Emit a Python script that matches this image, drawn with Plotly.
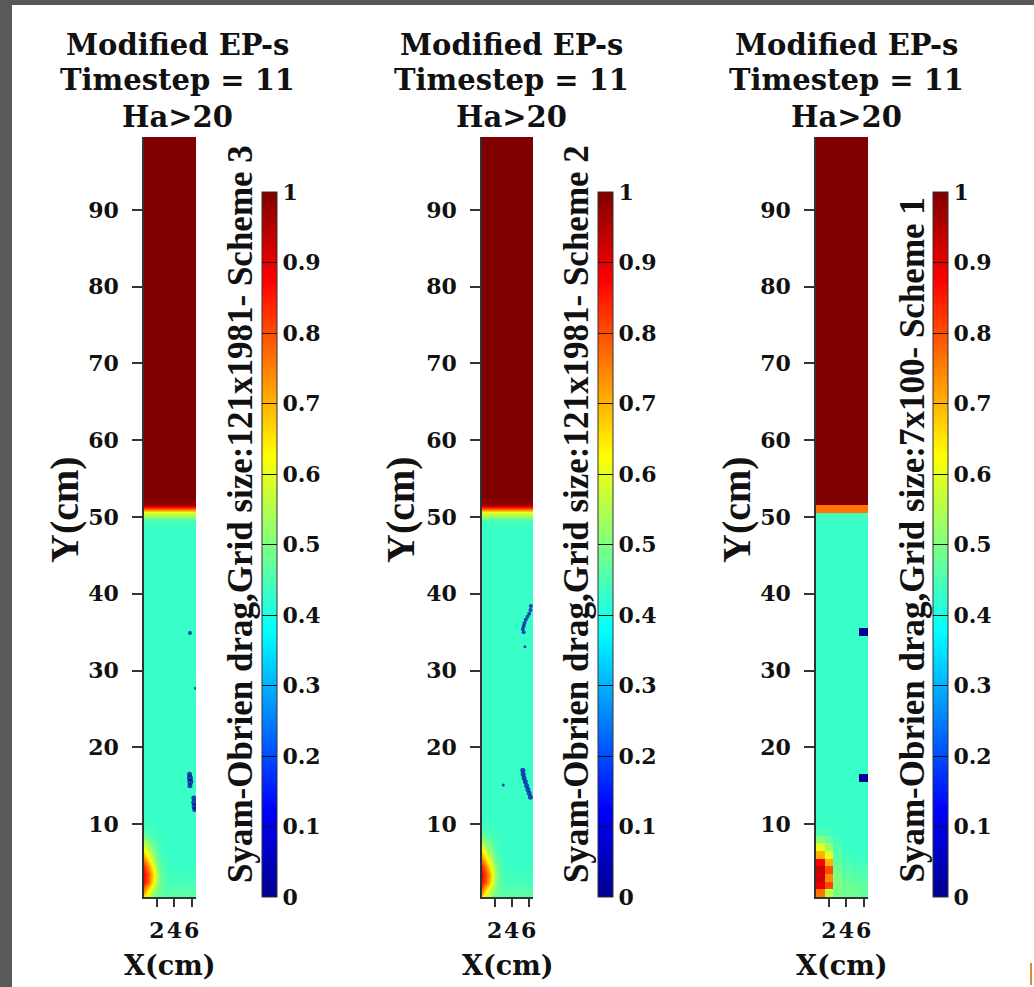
import plotly.graph_objects as go

W, H = 1034, 987

# ---------------- data ----------------
title_lines = ["Modified EP-s", "Timestep = 11", "Ha>20"]
side_labels = [
    "Syam-Obrien drag,Grid size:121x1981- Scheme 3",
    "Syam-Obrien drag,Grid size:121x1981- Scheme 2",
    "Syam-Obrien drag,Grid size:7x100- Scheme 1",
]
x_ticks = [2, 4, 6]
y_ticks = [10, 20, 30, 40, 50, 60, 70, 80, 90]
cbar_ticks = [0, 0.1, 0.2, 0.3, 0.4, 0.5, 0.6, 0.7, 0.8, 0.9, 1]
cbar_labels = ["0", "0.1", "0.2", "0.3", "0.4", "0.5", "0.6", "0.7", "0.8", "0.9", "1"]

bed_ep = 0.43          # gas volume fraction inside the bed
freeboard_ep = 1.0     # gas volume fraction above the bed

# fine schemes (121x1981), sampled every 0.5 cm across, 1 cm up
fine_x = [0.5, 1.0, 1.5, 2.0, 2.5, 3.0, 3.5, 4.0, 4.5, 5.0, 5.5, 6.0, 6.5]
fine_y_first, fine_rows = 0.5, 100
# coarse scheme (7x100 nodes -> 6x99 cells), one value per cell
coarse_x = [1, 2, 3, 4, 5, 6]
coarse_y_first, coarse_rows = 1, 99

# rows across the bed surface: (row index, value)
fine_interface = [(49, 0.44), (50, 0.58), (51, 0.97)]
coarse_interface = [(49, 0.44), (50, 0.76)]

# inlet jet region, rows from the bottom
fine_bottom = [
    [0.64, 0.57, 0.51, 0.48, 0.47, 0.46, 0.46, 0.46, 0.46, 0.46, 0.46, 0.46, 0.46],
    [0.77, 0.67, 0.56, 0.50, 0.47, 0.46, 0.46, 0.46, 0.46, 0.46, 0.46, 0.46, 0.46],
    [0.86, 0.79, 0.65, 0.53, 0.47, 0.45, 0.44, 0.44, 0.44, 0.44, 0.44, 0.44, 0.44],
    [0.87, 0.80, 0.67, 0.54, 0.47, 0.45, 0.44, 0.44, 0.44, 0.44, 0.44, 0.44, 0.44],
    [0.83, 0.74, 0.61, 0.51, 0.46, 0.44, 0.43, 0.43, 0.43, 0.43, 0.43, 0.43, 0.43],
    [0.74, 0.65, 0.55, 0.48, 0.45, 0.44, 0.43, 0.43, 0.43, 0.43, 0.43, 0.43, 0.43],
    [0.64, 0.57, 0.51, 0.46, 0.44, 0.43, 0.43, 0.43, 0.43, 0.43, 0.43, 0.43, 0.43],
    [0.55, 0.51, 0.47, 0.45, 0.44, 0.43, 0.43, 0.43, 0.43, 0.43, 0.43, 0.43, 0.43],
    [0.48, 0.46, 0.45, 0.44, 0.43, 0.43, 0.43, 0.43, 0.43, 0.43, 0.43, 0.43, 0.43],
    [0.44, 0.44, 0.44, 0.43, 0.43, 0.43, 0.43, 0.43, 0.43, 0.43, 0.43, 0.43, 0.43],
]
coarse_bottom = [
    [0.76, 0.56, 0.49, 0.48, 0.48, 0.47],
    [0.90, 0.80, 0.50, 0.48, 0.48, 0.47],
    [0.92, 0.74, 0.50, 0.47, 0.46, 0.46],
    [0.92, 0.80, 0.49, 0.46, 0.45, 0.45],
    [0.88, 0.70, 0.47, 0.45, 0.44, 0.44],
    [0.70, 0.60, 0.46, 0.44, 0.43, 0.43],
    [0.60, 0.52, 0.45, 0.43, 0.43, 0.43],
    [0.50, 0.47, 0.44, 0.43, 0.43, 0.43],
    [0.45, 0.44, 0.43, 0.43, 0.43, 0.43],
]

# small gas-free pockets (x cm, y cm, value, size px)
pockets_s3_x = [5.8, 6.45, 5.75, 5.8, 5.85, 5.8, 6.25, 6.3, 6.35, 6.35]
pockets_s3_y = [34.9, 27.7, 16.5, 16.0, 15.5, 15.0, 13.4, 12.8, 12.3, 11.9]
pockets_s3_ep = [0.02, 0.05, 0.01, 0.01, 0.01, 0.01, 0.01, 0.01, 0.01, 0.01]
pockets_s3_size = [4, 3, 5, 6, 6, 5, 5, 6, 6, 5]

pockets_s2_x = [6.25, 6.2, 6.05, 5.85, 5.65, 5.5, 5.4, 5.3, 5.4, 5.55,
                5.3, 5.35, 5.45, 5.6, 5.75, 5.9, 6.05, 6.2, 3.0]
pockets_s2_y = [38.4, 37.9, 37.4, 37.0, 36.6, 36.2, 35.8, 35.4, 35.0, 33.1,
                17.0, 16.5, 16.0, 15.5, 15.0, 14.5, 14.0, 13.5, 15.1]
pockets_s2_ep = [0.02] * 19
pockets_s2_size = [4, 4, 4, 4, 4, 4, 4, 4, 4, 3,
                   5, 5, 5, 5, 5, 5, 5, 5, 3]

# coarse cells with no gas: (column, row)
pockets_s1_cells = [(5, 34), (5, 15)]

# ---------------- layout constants ----------------
plot_px = [(144, 196), (482, 533), (816, 868)]
plot_top, plot_bottom = 137, 897
cbar_left = [262, 598, 933]
cbar_top, cbar_bottom = 192, 897
side_x = [240, 576, 912]
ylab_x = [64, 400, 736]
title_x = [177, 511, 846]
title_y = [45, 80, 117]

SERIF = "DejaVu Serif"
TIMES = "Liberation Serif"

jet = [
    [0.0, "rgb(0,0,143)"],
    [0.125, "rgb(0,0,255)"],
    [0.375, "rgb(0,255,255)"],
    [0.625, "rgb(255,255,0)"],
    [0.875, "rgb(255,0,0)"],
    [1.0, "rgb(128,0,0)"],
]


def px_x(v):
    return v / W


def px_y(v):
    return 1 - v / H


def build_field(ncols, nrows, interface, bottom):
    z = []
    iface = dict(interface)
    top_iface = max(iface)
    for r in range(nrows):
        if r < len(bottom):
            z.append(list(bottom[r]))
        elif r in iface:
            z.append([iface[r]] * ncols)
        elif r > top_iface:
            z.append([freeboard_ep] * ncols)
        else:
            z.append([bed_ep] * ncols)
    return z


fine_y = [fine_y_first + r for r in range(fine_rows)]
coarse_y = [coarse_y_first + r for r in range(coarse_rows)]

field_s3 = build_field(len(fine_x), fine_rows, fine_interface, fine_bottom)
field_s2 = build_field(len(fine_x), fine_rows, fine_interface, fine_bottom)
field_s1 = build_field(len(coarse_x), coarse_rows, coarse_interface, coarse_bottom)
for c, r in pockets_s1_cells:
    field_s1[r][c] = 0.0

panels = [
    dict(x=fine_x, y=fine_y, z=field_s3, smooth="best",
         px=pockets_s3_x, py=pockets_s3_y, pe=pockets_s3_ep, ps=pockets_s3_size),
    dict(x=fine_x, y=fine_y, z=field_s2, smooth="best",
         px=pockets_s2_x, py=pockets_s2_y, pe=pockets_s2_ep, ps=pockets_s2_size),
    dict(x=coarse_x, y=coarse_y, z=field_s1, smooth=False, px=None),
]

fig = go.Figure()
layout = dict(
    width=W, height=H,
    margin=dict(l=0, r=0, t=0, b=0),
    paper_bgcolor="white", plot_bgcolor="white",
    showlegend=False,
    annotations=[], shapes=[],
)

tick_font = dict(family=SERIF, size=22, color="#111", weight="bold")

for i, p in enumerate(panels):
    n = "" if i == 0 else str(i + 1)
    ca = "coloraxis" + n
    fig.add_trace(go.Heatmap(
        x=p["x"], y=p["y"], z=p["z"], zsmooth=p["smooth"],
        coloraxis=ca, xaxis="x" + n, yaxis="y" + n,
    ))
    if p["px"] is not None:
        fig.add_trace(go.Scatter(
            x=p["px"], y=p["py"], mode="markers",
            marker=dict(color=p["pe"], coloraxis=ca, size=p["ps"],
                        symbol="circle", line=dict(width=0)),
            xaxis="x" + n, yaxis="y" + n, hoverinfo="skip",
        ))

    l, r = plot_px[i]
    layout["xaxis" + n] = dict(
        domain=[px_x(l), px_x(r)], range=[0.5, 6.5], anchor="y" + n,
        tickvals=x_ticks, ticktext=[str(t) for t in x_ticks], tickangle=0,
        ticks="outside", ticklen=8, tickwidth=1.5, tickcolor="#333",
        showline=True, linecolor="#333", linewidth=1.5,
        showgrid=False, zeroline=False, tickfont=tick_font,
        ticklabelstandoff=5, automargin=False,
    )
    layout["yaxis" + n] = dict(
        domain=[px_y(plot_bottom), px_y(plot_top)], range=[0.5, 99.5],
        anchor="x" + n,
        tickvals=y_ticks, ticktext=[str(t) for t in y_ticks],
        ticks="outside", ticklen=10, tickwidth=1.5, tickcolor="#333",
        showline=True, linecolor="#333", linewidth=1.5,
        showgrid=False, zeroline=False, tickfont=tick_font,
        ticklabelstandoff=9, automargin=False,
    )
    layout[ca] = dict(
        colorscale=jet, cmin=0, cmax=1,
        colorbar=dict(
            x=px_x(cbar_left[i]), xanchor="left", xref="paper",
            y=px_y(cbar_bottom), yanchor="bottom", yref="paper",
            len=(cbar_bottom - cbar_top) / H, lenmode="fraction",
            thickness=15, thicknessmode="pixels",
            xpad=0, ypad=0,
            outlinewidth=1, outlinecolor="#333",
            tickvals=cbar_ticks, ticktext=cbar_labels,
            ticks="inside", ticklen=15, tickwidth=1.2, tickcolor="#111",
            tickfont=tick_font,
        ),
    )

    cx = (l + r) / 2
    for line, ty in zip(title_lines, title_y):
        layout["annotations"].append(dict(
            text=line, xref="paper", yref="paper",
            x=px_x(title_x[i]), y=px_y(ty), xanchor="center", yanchor="middle",
            showarrow=False,
            font=dict(family=SERIF, size=29, color="#111", weight="bold"),
        ))
    layout["annotations"].append(dict(
        text="X(cm)", xref="paper", yref="paper",
        x=px_x(cx), y=px_y(965), xanchor="center", yanchor="middle",
        showarrow=False,
        font=dict(family=SERIF, size=27, color="#111", weight="bold"),
    ))
    layout["annotations"].append(dict(
        text="Y(cm)", xref="paper", yref="paper", textangle=-90,
        x=px_x(ylab_x[i]), y=px_y(510), xanchor="center", yanchor="middle",
        showarrow=False,
        font=dict(family=TIMES, size=40, color="#111", weight="bold"),
    ))
    layout["annotations"].append(dict(
        text=side_labels[i], xref="paper", yref="paper", textangle=-90,
        x=px_x(side_x[i]), y=px_y(885), xanchor="center", yanchor="bottom",
        showarrow=False,
        font=dict(family=TIMES, size=35, color="#111", weight="bold"),
    ))

# dark frame along the left and top edges, and the clipped neighbour mark
layout["shapes"] += [
    dict(type="rect", xref="paper", yref="paper", x0=0, x1=px_x(12), y0=0, y1=1,
         fillcolor="#595959", line=dict(width=0), layer="above"),
    dict(type="rect", xref="paper", yref="paper", x0=0, x1=1, y0=px_y(5), y1=1,
         fillcolor="#595959", line=dict(width=0), layer="above"),
    dict(type="rect", xref="paper", yref="paper", x0=px_x(1030), x1=px_x(1032),
         y0=px_y(985), y1=px_y(963), fillcolor="#d98a3a", line=dict(width=0)),
]

fig.update_layout(**layout)
fig.write_html("out.html")
